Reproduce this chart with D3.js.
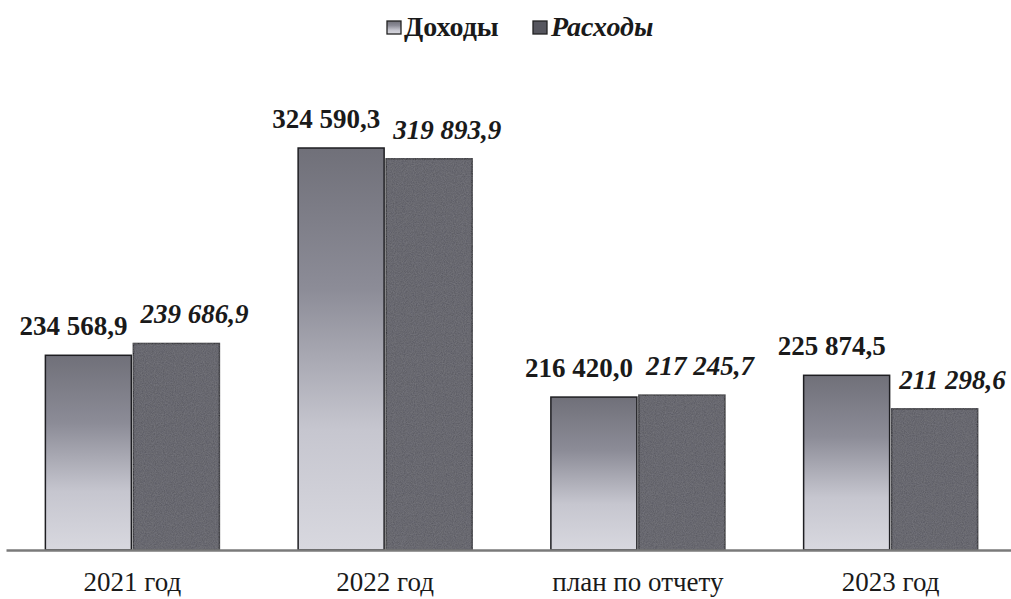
<!DOCTYPE html>
<html>
<head>
<meta charset="utf-8">
<script src="https://cdn.jsdelivr.net/npm/d3@7"></script>
<style>
  body { margin: 0; background: #fff; }
</style>
</head>
<body>
<svg id="chart" width="1011" height="599"></svg>
<script>
const categories = ["2021 год", "2022 год", "план по отчету", "2023 год"];
const seriesNames = ["Доходы", "Расходы"];
const incomeValues = [234568.9, 324590.3, 216420.0, 225874.5];
const expenseValues = [239686.9, 319893.9, 217245.7, 211298.6];
const valueLabels = [
  ["234 568,9", "324 590,3", "216 420,0", "225 874,5"],
  ["239 686,9", "319 893,9", "217 245,7", "211 298,6"]
];

const W = 1011, H = 599;
const serif = "Liberation Serif, Times New Roman, serif";
const svg = d3.select("#chart").attr("viewBox", `0 0 ${W} ${H}`).attr("font-family", serif);
const baseY = 550;

// defs: gradient for income, textured dark fill for expenses
const defs = svg.append("defs");
const grad = defs.append("linearGradient").attr("id", "gIncome").attr("x1", 0).attr("y1", 0).attr("x2", 0).attr("y2", 1);
grad.append("stop").attr("offset", "0%").attr("stop-color", "#707079");
grad.append("stop").attr("offset", "35%").attr("stop-color", "#8c8c97");
grad.append("stop").attr("offset", "70%").attr("stop-color", "#c6c6cf");
grad.append("stop").attr("offset", "100%").attr("stop-color", "#d8d8df");

const filt = defs.append("filter").attr("id", "grain");
filt.append("feTurbulence").attr("type", "fractalNoise").attr("baseFrequency", 0.9).attr("numOctaves", 2).attr("result", "n");
filt.append("feColorMatrix").attr("in", "n").attr("type", "matrix")
  .attr("values", "0 0 0 0 0.33  0 0 0 0 0.33  0 0 0 0 0.36  0 0 0 0.4 0").attr("result", "nc");
filt.append("feComposite").attr("in", "nc").attr("in2", "SourceGraphic").attr("operator", "in").attr("result", "nm");
filt.append("feMerge").call(m => { m.append("feMergeNode").attr("in", "SourceGraphic"); m.append("feMergeNode").attr("in", "nm"); });

const fills = ["url(#gIncome)", "#56565e"];

const x0 = d3.scaleBand().domain(categories).range([6, 1017]).padding(0);
const x1 = d3.scaleBand().domain(seriesNames).range([0, 176]).padding(0);
const groupOff = (x0.bandwidth() - 176) / 2;
const y = d3.scaleLinear().domain([150000, 350000]).range([baseY, baseY - 200000 * 0.0023025]);

const series = [incomeValues, expenseValues];
const labelDx = [-15, 18];

seriesNames.forEach((s, si) => {
  const g = svg.append("g");
  g.selectAll("rect").data(categories).enter().append("rect")
    .attr("x", c => x0(c) + groupOff + x1(s) + 1)
    .attr("width", x1.bandwidth() - 2)
    .attr("y", (c, i) => y(series[si][i]))
    .attr("height", (c, i) => baseY - y(series[si][i]))
    .attr("fill", fills[si])
    .attr("filter", si === 1 ? "url(#grain)" : null)
    .attr("stroke", "#1e1e22")
    .attr("stroke-width", 1.5);

  g.selectAll("text").data(categories).enter().append("text")
    .attr("x", c => x0(c) + groupOff + x1(s) + x1.bandwidth() / 2 + labelDx[si])
    .attr("y", (c, i) => y(series[si][i]) - 20)
    .attr("text-anchor", "middle")
    .attr("font-size", 27)
    .attr("font-weight", "bold")
    .attr("font-style", si === 1 ? "italic" : "normal")
    .attr("fill", "#1a1a1a")
    .text((c, i) => valueLabels[si][i]);
});

// baseline axis
const axis = d3.axisBottom(x0).tickSize(0).tickPadding(22);
const ax = svg.append("g").attr("transform", `translate(0,${baseY})`).call(axis);
ax.attr("font-family", serif).attr("font-size", 27);
ax.select(".domain").attr("stroke", "#7a7a7a").attr("stroke-width", 2.5);
ax.selectAll("text").attr("fill", "#1a1a1a");

// legend
const legend = svg.append("g").attr("transform", "translate(387,20)");
const leg = [{ x: 0, tx: 17, italic: false }, { x: 146, tx: 164, italic: true }];
seriesNames.forEach((s, i) => {
  legend.append("rect").attr("x", leg[i].x).attr("y", 1).attr("width", 14).attr("height", 13)
    .attr("fill", fills[i]).attr("stroke", "#222").attr("stroke-width", 1.3);
  legend.append("text").attr("x", leg[i].tx).attr("y", 16)
    .attr("font-size", 28).attr("font-weight", "bold")
    .attr("font-style", leg[i].italic ? "italic" : "normal")
    .attr("fill", "#1a1a1a").text(s);
});
</script>
</body>
</html>
